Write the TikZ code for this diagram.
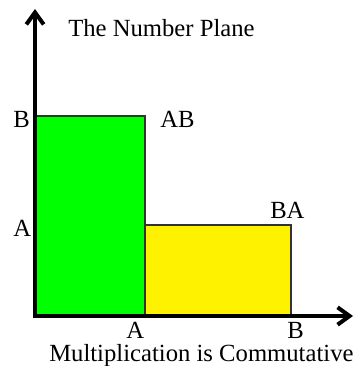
\documentclass[tikz,border=0pt]{standalone}
\usepackage{fontspec}
\setmainfont{Liberation Serif}
\usetikzlibrary{arrows.meta}
\tikzset{
  axisline/.style={line width=3pt,-{Straight Barb[length=9pt,width=13pt]}},
  lbl/.style={font=\fontsize{18.5}{21}\selectfont, inner sep=0pt, anchor=base west},
  area/.style={draw=black!80, line width=0.8pt}
}
\begin{document}
\begin{tikzpicture}[x=0.75pt,y=-0.75pt]
\useasboundingbox (0,0) rectangle (355,366);
% axes corners and rectangle corners
\coordinate (O) at (35,316);
\coordinate (ytop) at (35,9);
\coordinate (xend) at (353,316);
\coordinate (AB) at (145,116);
\coordinate (BA) at (291,225);
\coordinate (Ax) at (145,316);
% the two areas
\filldraw[area,fill=green] (O) rectangle (AB);
\filldraw[area,fill=yellow] (Ax) rectangle (BA);
% axes
\draw[axisline] ([yshift=1.5pt]O) -- (ytop);
\draw[axisline] ([xshift=-1.5pt]O) -- (xend);
% labels
\node[lbl] (title) at (68,37) {The Number Plane};
\node[lbl] (By) at (13,128) {B};
\node[lbl] (Ay) at (13,236) {A};
\node[lbl] (ABl) at (160,128) {AB};
\node[lbl] (BAl) at (270,218) {BA};
\node[lbl] (Axl) at (126,338) {A};
\node[lbl] (Bxl) at (287,338) {B};
\node[lbl] (caption) at (49,361) {Multiplication is Commutative};
\end{tikzpicture}
\end{document}
